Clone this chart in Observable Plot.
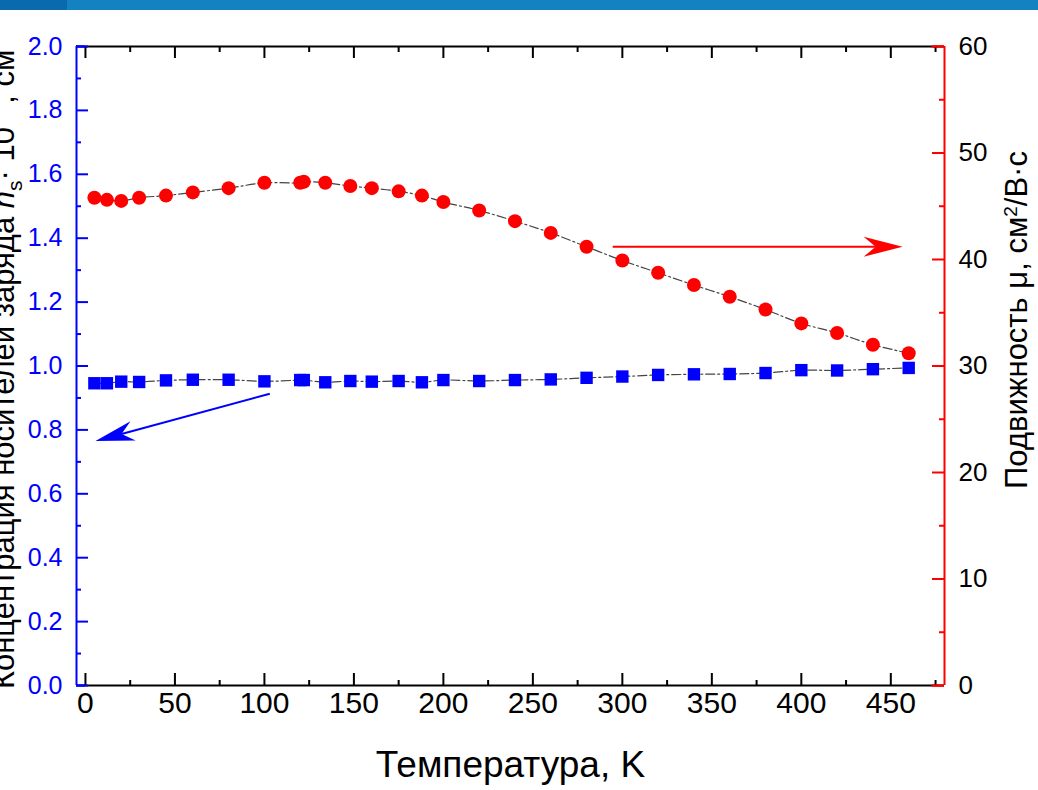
<!DOCTYPE html>
<html><head><meta charset="utf-8">
<script src="https://cdn.jsdelivr.net/npm/d3@7"></script>
<script src="https://cdn.jsdelivr.net/npm/@observablehq/plot@0.6"></script>
<style>
body{margin:0;background:#fff;}
#wrap{position:relative;width:1038px;height:790px;overflow:hidden;background:#fff;}
#bar{position:absolute;left:0;top:0;width:1038px;height:10px;background:#1481c1;}
#bar2{position:absolute;left:0;top:0;width:67px;height:10px;background:#0a6aae;}
</style></head><body>
<div id="wrap"><div id="chart"></div><div id="bar"></div><div id="bar2"></div></div>
<script>
// ---- data ----
const temperature = [5, 12, 20, 30, 45, 60, 80, 100, 120, 122, 134, 148, 160, 175, 188, 200, 220, 240, 260, 280, 300, 320, 340, 360, 380, 400, 420, 440, 460];
const mobility = [45.8, 45.6, 45.5, 45.8, 46.0, 46.3, 46.7, 47.2, 47.2, 47.3, 47.2, 46.9, 46.7, 46.4, 46.0, 45.4, 44.6, 43.6, 42.5, 41.2, 39.9, 38.75, 37.6, 36.5, 35.3, 34.0, 33.1, 32.0, 31.2];
const concentration = [0.946, 0.946, 0.951, 0.950, 0.955, 0.957, 0.957, 0.952, 0.956, 0.956, 0.949, 0.953, 0.951, 0.953, 0.949, 0.956, 0.953, 0.956, 0.958, 0.963, 0.967, 0.972, 0.974, 0.975, 0.978, 0.987, 0.986, 0.990, 0.994];

const xMajor = [0, 50, 100, 150, 200, 250, 300, 350, 400, 450];
const xMinor = [25, 75, 125, 175, 225, 275, 325, 375, 425, 475];
const leftMajor = [0, 0.2, 0.4, 0.6, 0.8, 1.0, 1.2, 1.4, 1.6, 1.8, 2.0];
const leftMinor = [0.1, 0.3, 0.5, 0.7, 0.9, 1.1, 1.3, 1.5, 1.7, 1.9];
const rightMajor = [0, 10, 20, 30, 40, 50, 60];
const rightMinor = [5, 15, 25, 35, 45, 55];

const xDomain = [-5, 480];
const leftDomain = [0, 2];
const rightMax = 60;

// annotation arrows: [x1, y1, x2(tip), y2(tip)]
const mobilityArrow = [294.6, 41.2, 456.6, 41.2];      // right-axis units
const concentrationArrow = [103, 0.913, 5.6, 0.765];   // left-axis units

const xTitle = "Температура, K";
const leftTitle = "Концентрация носителей заряда ns· 1012, см-2";
const rightTitle = "Подвижность μ, см2/В·с";

// ---- layout ----
const W = 1038, H = 790, mL = 76, mR = 94, mT = 46, mB = 105;
const fw = W - mL - mR, fh = H - mT - mB;
const BLUE = "#0000ff", RED = "#ff0000";
const toLeft = v => v * (leftDomain[1] / rightMax);

const data = temperature.map((t, i) => ({t, mu: mobility[i], n: concentration[i]}));

const xs = d3.scaleLinear(xDomain, [mL, W - mR]);
const ys = d3.scaleLinear(leftDomain, [H - mB, mT]);

function headSymbol(angleRad) {
  const pts = [[0, 0], [-39, -10], [-27, 0], [-39, 10]];
  const c = Math.cos(angleRad), s = Math.sin(angleRad);
  const rp = pts.map(([x, y]) => [x * c - y * s, x * s + y * c]);
  return {draw(ctx) { ctx.moveTo(rp[0][0], rp[0][1]); for (let i = 1; i < rp.length; i++) ctx.lineTo(rp[i][0], rp[i][1]); ctx.closePath(); }};
}
function arrowAngle(x1, y1, x2, y2) {
  return Math.atan2(ys(y2) - ys(y1), xs(x2) - xs(x1));
}
const mA = {x1: mobilityArrow[0], y1: toLeft(mobilityArrow[1]), x2: mobilityArrow[2], y2: toLeft(mobilityArrow[3])};
const cA = {x1: concentrationArrow[0], y1: concentrationArrow[1], x2: concentrationArrow[2], y2: concentrationArrow[3]};
const mAng = arrowAngle(mA.x1, mA.y1, mA.x2, mA.y2);
const cAng = arrowAngle(cA.x1, cA.y1, cA.x2, cA.y2);
const shaftEnd = (a, ang) => ({x1: a.x1, y1: a.y1, x2: xs.invert(xs(a.x2) - 27 * Math.cos(ang)), y2: ys.invert(ys(a.y2) - 27 * Math.sin(ang))});

const chart = Plot.plot({
  width: W, height: H,
  marginLeft: mL, marginRight: mR, marginTop: mT, marginBottom: mB,
  x: {domain: xDomain, axis: null},
  y: {domain: leftDomain, axis: null},
  style: {fontFamily: "'Liberation Sans', Arial, sans-serif", background: "white", overflow: "visible"},
  marks: [
    // axis lines
    Plot.ruleY([leftDomain[0]], {stroke: "#000", strokeWidth: 2}),
    Plot.ruleY([leftDomain[1]], {stroke: "#000", strokeWidth: 2}),
    Plot.ruleX([xDomain[0]], {stroke: BLUE, strokeWidth: 2}),
    Plot.ruleX([xDomain[1]], {stroke: RED, strokeWidth: 2}),
    Plot.ruleY(leftDomain, {x1: xDomain[0], x2: 0, stroke: BLUE, strokeWidth: 2}),
    Plot.ruleY(leftDomain, {x1: 473, x2: xDomain[1], stroke: RED, strokeWidth: 2}),
    // x ticks (bottom and top, inward)
    Plot.ruleX(xMajor, {x: d => d, insetTop: fh - 12, stroke: "#000", strokeWidth: 2}),
    Plot.ruleX(xMinor, {x: d => d, insetTop: fh - 5, stroke: "#000", strokeWidth: 2}),
    Plot.ruleX(xMajor, {x: d => d, insetBottom: fh - 12, stroke: "#000", strokeWidth: 2}),
    Plot.ruleX(xMinor, {x: d => d, insetBottom: fh - 6, stroke: "#000", strokeWidth: 2}),
    // left ticks
    Plot.ruleY(leftMajor, {y: d => d, insetRight: fw - 12, stroke: BLUE, strokeWidth: 2}),
    Plot.ruleY(leftMinor, {y: d => d, insetRight: fw - 5, stroke: BLUE, strokeWidth: 2}),
    // right ticks
    Plot.ruleY(rightMajor, {y: d => toLeft(d), insetLeft: fw - 12, stroke: RED, strokeWidth: 2}),
    Plot.ruleY(rightMinor, {y: d => toLeft(d), insetLeft: fw - 5, stroke: RED, strokeWidth: 2}),
    // tick labels
    Plot.text(leftMajor, {y: d => d, text: d => d.toFixed(1), frameAnchor: "left", dx: -14, textAnchor: "end", fill: BLUE, fontSize: 25}),
    Plot.text(rightMajor, {y: d => toLeft(d), text: d => String(d), frameAnchor: "right", dx: 14, textAnchor: "start", fill: "#000", fontSize: 26}),
    Plot.text(xMajor, {x: d => d, text: d => String(d), frameAnchor: "bottom", dy: 27, fill: "#000", fontSize: 30}),
    // titles
    Plot.text([xTitle], {text: d => d, frameAnchor: "bottom", dy: 91, fontSize: 37, fill: "#000", textAnchor: "middle"}),
    Plot.text([leftTitle], {text: d => d, frameAnchor: "left", rotate: -90, dx: -72, dy: -6, fontSize: 31, fill: "#000", textAnchor: "middle"}),
    Plot.text([rightTitle], {text: d => d, frameAnchor: "right", rotate: -90, dx: 73, dy: -46, fontSize: 31, fill: "#000", textAnchor: "middle"}),
    // series
    Plot.line(data, {x: "t", y: d => toLeft(d.mu), curve: "catmull-rom", stroke: "#444", strokeWidth: 1.2, strokeDasharray: "9,3,2,3"}),
    Plot.line(data, {x: "t", y: "n", curve: "catmull-rom", stroke: "#444", strokeWidth: 1.2, strokeDasharray: "9,3,2,3"}),
    Plot.dot(data, {x: "t", y: d => toLeft(d.mu), r: 7, fill: RED, stroke: "none"}),
    Plot.dot(data, {x: "t", y: "n", r: 7, symbol: "square", fill: BLUE, stroke: "none"}),
    // arrows
    Plot.link([shaftEnd(mA, mAng)], {x1: "x1", y1: "y1", x2: "x2", y2: "y2", stroke: RED, strokeWidth: 2}),
    Plot.dot([mA], {x: "x2", y: "y2", symbol: headSymbol(mAng), fill: RED, stroke: "none"}),
    Plot.link([shaftEnd(cA, cAng)], {x1: "x1", y1: "y1", x2: "x2", y2: "y2", stroke: BLUE, strokeWidth: 2}),
    Plot.dot([cA], {x: "x2", y: "y2", symbol: headSymbol(cAng), fill: BLUE, stroke: "none"})
  ]
});

// rich text for titles (subscripts/superscripts)
function richify(svg, plain, parts) {
  d3.select(svg).selectAll("text").filter(function () { return this.textContent === plain; }).each(function () {
    const t = d3.select(this);
    t.text(null);
    for (const p of parts) {
      const ts = t.append("tspan").text(p.t);
      if (p.dy) ts.attr("dy", p.dy);
      if (p.size) ts.attr("font-size", p.size);
      if (p.italic) ts.attr("font-style", "italic");
    }
  });
}
richify(chart, leftTitle, [
  {t: "Концентрация носителей заряда "},
  {t: "n", italic: true},
  {t: "s", dy: 8, size: 21},
  {t: "· 10", dy: -8},
  {t: "12", dy: -17, size: 21},
  {t: ", см", dy: 17},
  {t: "-2", dy: -17, size: 21}
]);
richify(chart, rightTitle, [
  {t: "Подвижность μ, см"},
  {t: "2", dy: -10, size: 19},
  {t: "/В·с", dy: 10}
]);

document.getElementById("chart").appendChild(chart);
</script>
</body></html>
